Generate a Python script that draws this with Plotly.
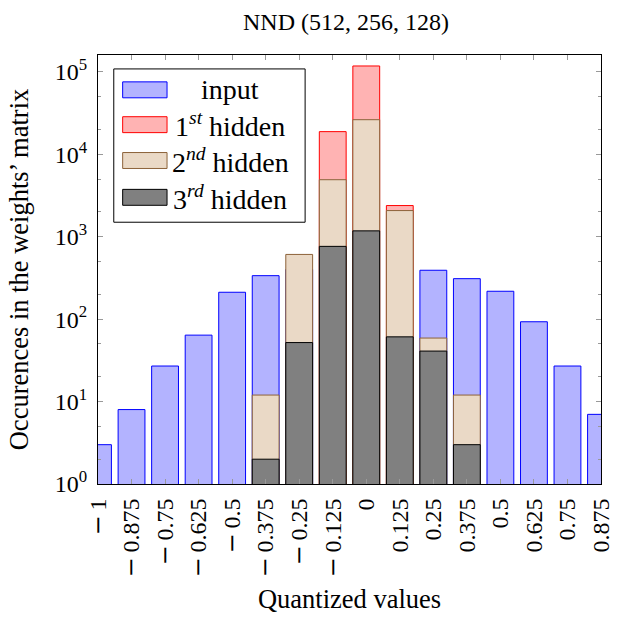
import plotly.graph_objects as go

# Bin centers (quantized values)
categories = [-1, -0.875, -0.75, -0.625, -0.5, -0.375, -0.25, -0.125,
              0, 0.125, 0.25, 0.375, 0.5, 0.625, 0.75, 0.875]
MINUS = "<span style='font-family:DejaVu Serif'>−</span>\u2009"
tick_labels = [MINUS + "1", MINUS + "0.875", MINUS + "0.75", MINUS + "0.625",
               MINUS + "0.5", MINUS + "0.375", MINUS + "0.25", MINUS + "0.125",
               "0", "0.125", "0.25", "0.375", "0.5", "0.625", "0.75", "0.875"]
y_tick_vals = [1, 10, 100, 1000, 10000, 100000]
y_tick_text = ["10<sup>0</sup>", "10<sup>1</sup>", "10<sup>2</sup>",
               "10<sup>3</sup>", "10<sup>4</sup>", "10<sup>5</sup>"]

input_vals = [3, 8, 27, 64, 212, 337, 400, None,
              None, None, 392, 310, 218, 93, 27, 7]
hidden1_vals = [None, None, None, None, None, None, None, 18850,
                118000, 2390, None, None, None, None, None, None]
hidden2_vals = [None, None, None, None, None, 12, 610, 4920,
                26300, 2077, 59, 12, None, None, None, None]
hidden3_vals = [None, None, None, None, None, 2, 52, 764,
                1178, 61, 41, 3, None, None, None, None]

series_names = ["input", "1<sup><i>st</i></sup> hidden",
                "2<sup><i>nd</i></sup> hidden", "3<sup><i>rd</i></sup> hidden"]
series_vals = [input_vals, hidden1_vals, hidden2_vals, hidden3_vals]
fills = ["#b3b3ff", "#ffb3b3", "#ead9c6", "#808080"]
borders = ["#0000ff", "#ff0000", "#8c6239", "#000000"]

FONT = "Liberation Serif, Times New Roman, serif"
W, H = 626, 620
ML, MR, MT, MB = 98, 18, 55, 134
PW, PH = W - ML - MR, H - MT - MB

def px_x(px):
    return (px - ML) / PW

def px_y(py):
    return (H - MB - py) / PH

fig = go.Figure()
for name, vals, fill, line in zip(series_names, series_vals, fills, borders):
    fig.add_trace(go.Bar(
        x=categories, y=vals, name=name, width=0.1, showlegend=False,
        marker=dict(color=fill, line=dict(color=line, width=1)),
    ))

# Custom legend (wide swatches like the reference)
shapes = [dict(type="rect", xref="paper", yref="paper",
               x0=px_x(114), x1=px_x(308), y0=px_y(223), y1=px_y(69),
               line=dict(color="black", width=1), fillcolor="white", layer="above")]
annotations = []
row_centers = [90, 125, 161, 198]
for name, fill, line, rc in zip(series_names, fills, borders, row_centers):
    shapes.append(dict(type="rect", xref="paper", yref="paper",
                       x0=px_x(123), x1=px_x(168), y0=px_y(rc + 8), y1=px_y(rc - 8),
                       line=dict(color=line, width=1), fillcolor=fill, layer="above"))
    annotations.append(dict(text=name, xref="paper", yref="paper",
                            x=px_x(232), y=px_y(rc), xanchor="center", yanchor="middle",
                            showarrow=False, font=dict(size=28, family=FONT, color="black")))

fig.update_layout(
    width=W, height=H,
    barmode="overlay",
    paper_bgcolor="white", plot_bgcolor="white",
    margin=dict(l=ML, r=MR, t=MT, b=MB),
    font=dict(family=FONT, size=24, color="black"),
    title=dict(text="NND (512, 256, 128)", x=346 / W, xanchor="center",
               y=1 - 22 / H, yanchor="middle", font=dict(size=24)),
    showlegend=False,
    shapes=shapes,
    annotations=annotations,
)

fig.update_xaxes(
    range=[-1, 0.875],
    tickvals=categories, ticktext=tick_labels, tickangle=-90,
    ticks="inside", ticklen=5, tickcolor="#999999",
    showline=True, linecolor="black", linewidth=1, mirror="allticks",
    showgrid=False, zeroline=False, ticklabelstandoff=4,
    title=dict(text="Quantized values", standoff=12, font=dict(size=26.5)),
    tickfont=dict(size=24),
)

fig.update_yaxes(
    type="log", range=[0, 5.205],
    tickvals=y_tick_vals, ticktext=y_tick_text,
    ticks="inside", ticklen=5, tickcolor="#999999",
    minor=dict(ticks="inside", ticklen=3, tickcolor="#999999", showgrid=False),
    showline=True, linecolor="black", linewidth=1, mirror="allticks",
    showgrid=False, zeroline=False, ticklabelstandoff=5,
    title=dict(text="Occurences in the weights’ matrix", standoff=18, font=dict(size=26.5)),
    tickfont=dict(size=24),
)

fig.write_html("out.html")
